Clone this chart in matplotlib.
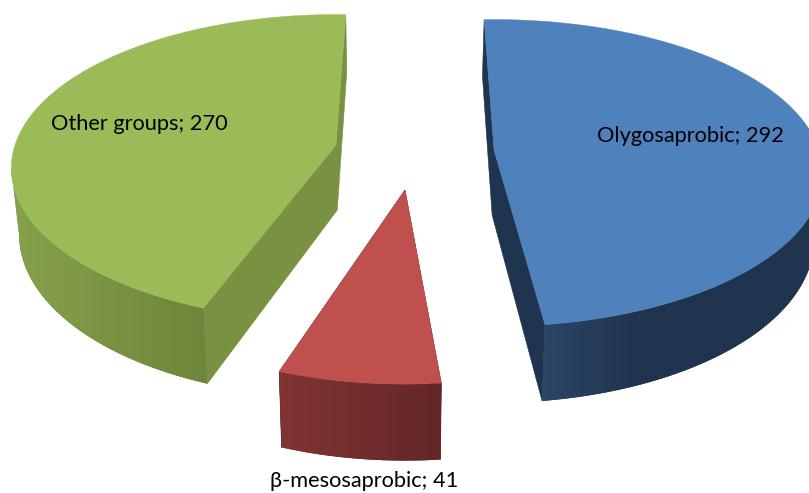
import numpy as np
import matplotlib
matplotlib.use("Agg")
import matplotlib.pyplot as plt
from matplotlib.patches import Polygon
from matplotlib.colors import to_rgb

categories = ["Olygosaprobic", "β-mesosaprobic", "Other groups"]
values = [292, 41, 270]

top_colors = ["#4F81BD", "#C0504D", "#9BBB59"]
cut_colors = ["#1F344F", "#632727", "#7A9141"]
wall_left = ["#2C4769", "#823333", "#87A24C"]
wall_right = ["#1F344F", "#632727", "#6E853B"]
wall_reach = [0.32, 1.0, 1.0]

centers = [(494, 150), (405, 190), (336, 145)]
x_radius = [325, 330, 321]
y_radius = [150, 165, 150]
rotation = [-2.0, 0.3, 2.0]
label_pos = [(597, 136), (270, 481), (51, 124)]

PERSP = 0.15
THICK = 65
CONVERGE = 0.02
MID_X = 400

fig = plt.figure(figsize=(8.09, 4.93), dpi=100)
ax = fig.add_axes([0, 0, 1, 1])


def project(theta, cx, cy, a, b):
    X = np.sin(theta)
    Y = np.cos(theta)
    d = 1 + PERSP * Y
    return cx + a * X / d, cy - b * Y / d, d


def lower(x, y, d):
    return x - CONVERGE * (x - MID_X), y + THICK / d


fractions = np.array(values, dtype=float) / sum(values)
edges = np.concatenate([[0], np.cumsum(fractions)]) * 2 * np.pi

for i in range(len(values)):
    cx, cy = centers[i]
    a, b = x_radius[i], y_radius[i]
    t0 = edges[i] + np.radians(rotation[i])
    t1 = edges[i + 1] + np.radians(rotation[i])
    th = np.linspace(t0, t1, 361)
    x, y, d = project(th, cx, cy, a, b)
    xl, yl = lower(x, y, d)

    # cut faces: drawn behind everything else of the slice
    cxb, cyb = lower(cx, cy, 1.0)
    cut = [(x[0], y[0]), (cx, cy), (x[-1], y[-1]),
           (xl[-1], yl[-1]), (cxb, cyb), (xl[0], yl[0])]
    ax.add_patch(Polygon(cut, closed=True, facecolor=cut_colors[i],
                         edgecolor=cut_colors[i], linewidth=0.4, zorder=2 + i))

    # outer wall: from the widest point of the rim round the front
    c_l = np.array(to_rgb(wall_left[i]))
    c_r = np.array(to_rgb(wall_right[i]))
    facing = np.cos(th) <= -PERSP
    wx = np.concatenate([x[facing], xl[facing][::-1]])
    wy = np.concatenate([y[facing], yl[facing][::-1]])
    wall = Polygon(np.column_stack([wx, wy]), closed=True, facecolor=c_r,
                   edgecolor="none", zorder=2 + i)
    ax.add_patch(wall)
    grad = np.linspace(0, 1, 256)
    colors = np.zeros((1, 256, 3))
    for k in range(3):
        colors[0, :, k] = c_l[k] + (c_r[k] - c_l[k]) * np.clip(grad / wall_reach[i], 0, 1)
    im = ax.imshow(colors, extent=(wx.min(), wx.max(), 493, 0), aspect="auto",
                   interpolation="bilinear", zorder=2 + i)
    im.set_clip_path(wall)

    # top face
    px = np.concatenate([[cx], x])
    py = np.concatenate([[cy], y])
    ax.add_patch(Polygon(np.column_stack([px, py]), closed=True,
                         facecolor=top_colors[i], edgecolor=top_colors[i],
                         linewidth=0.3, zorder=6 + i))

ax.set_xlim(0, 809)
ax.set_ylim(493, 0)
ax.axis("off")

for name, val, (lx, ly) in zip(categories, values, label_pos):
    ax.text(lx, ly, f"{name}; {val}", family=["Lato", "DejaVu Sans"], fontsize=15.7,
            color="black", ha="left", va="center", zorder=20)

fig.savefig("out.png", dpi=100, facecolor="white")
